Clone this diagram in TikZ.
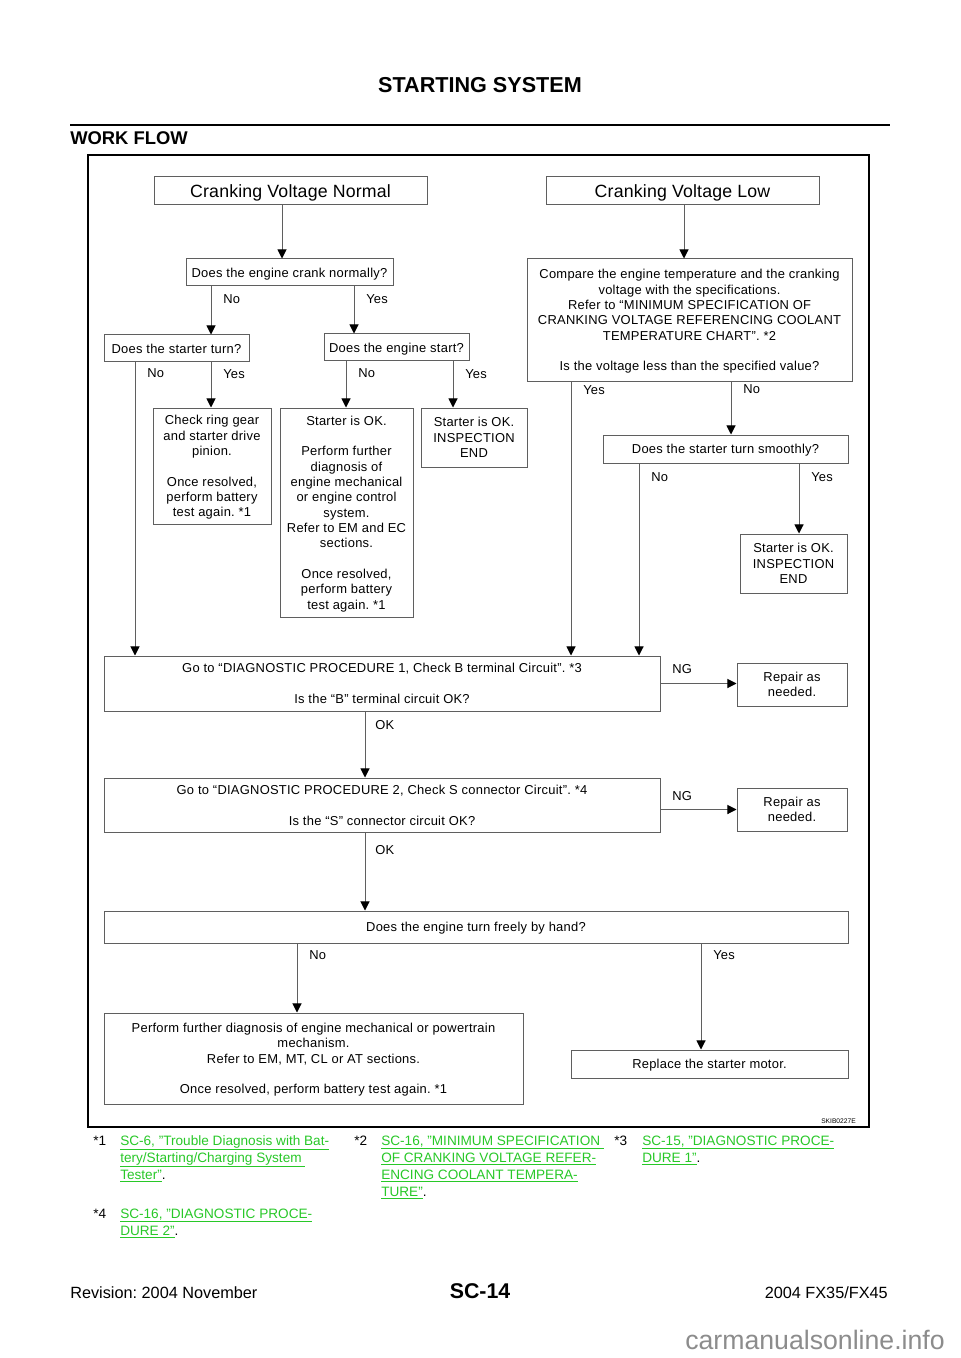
\documentclass[tikz,border=0pt]{standalone}
\usepackage{fontspec}
\setmainfont{Liberation Sans}
\newfontfamily\diagfont[LetterSpace=2]{Liberation Sans}
\newfontfamily\bigfont[LetterSpace=1]{Liberation Sans}
\usetikzlibrary{arrows.meta}
\definecolor{lnk}{RGB}{40,200,40}
\definecolor{ln}{RGB}{95,95,95}
\frenchspacing
\newcommand\vconn[3]{\draw[arr] (#1,0 |- #2.south) -- (#1,0 |- #3.north);}
\newcommand\fnl[4]{\node[fn] (#1) at (#2,#3) {#4};}
% \boxn{style}{x1}{y1}{x2}{y2}{name}{text}
\newcommand\boxn[7]{\node[#1, minimum width={(#4-#2)*0.75pt}, minimum height={(#5-#3)*0.75pt}] (#6) at ({(#2+#4)/2},{(#3+#5)/2}) {#7};}
\begin{document}
\begin{tikzpicture}[x=0.75pt,y=-0.75pt,
  dfont/.style={font=\diagfont\fontsize{9.7}{11.5}\selectfont},
  box/.style={draw=ln, line width=0.75pt, inner sep=0pt, align=center, text depth=0pt, dfont},
  bigbox/.style={box, font=\bigfont\fontsize{13.3}{16}\selectfont},
  arr/.style={draw=ln, line width=0.75pt, -{Triangle[width=6.8pt,length=6.8pt,color=black]}},
  lbl/.style={anchor=west, inner sep=0pt, dfont},
  fn/.style={anchor=base west, inner sep=0pt, font=\fontsize{10.2}{12}\selectfont}]
\useasboundingbox (0,0) rectangle (960,1358);
\fill[white] (0,0) rectangle (960,1358);

% header
\node[font=\bfseries\fontsize{16.2}{18}\selectfont] (title) at (480,85) {STARTING SYSTEM};
\draw[line width=2.2pt] (70,125) -- (890,125);
\node[anchor=west, inner sep=0pt, font=\bfseries\fontsize{13.8}{16}\selectfont] (wf) at (70,138) {WORK FLOW};

% frame
\draw[line width=1.4pt] (88,155) rectangle (869,1127);
\node[anchor=east, inner sep=0pt, font=\fontsize{5}{6}\selectfont] (skib) at (856,1121) {SKIB0227E};

% boxes
\boxn{bigbox}{154}{177}{427}{205}{cvn}{Cranking Voltage Normal}
\boxn{bigbox}{546}{177}{819}{205}{cvl}{Cranking Voltage Low}
\boxn{box}{186}{259}{393}{286}{crank}{Does the engine crank normally?}
\boxn{box}{104}{335}{249}{362}{sturn}{Does the starter turn?}
\boxn{box}{324}{334}{469}{361}{estart}{Does the engine start?}
\boxn{box}{153}{408}{271}{524}{ring}{Check ring gear\\and starter drive\\pinion.\\[11.5pt]Once resolved,\\perform battery\\test again. *1}
\boxn{box}{280}{408}{413}{617}{okbig}{Starter is OK.\\[11.5pt]Perform further\\diagnosis of\\engine mechanical\\or engine control\\system.\\Refer to EM and EC\\sections.\\[11.5pt]Once resolved,\\perform battery\\test again. *1}
\boxn{box}{421}{408}{527}{467}{okend1}{Starter is OK.\\INSPECTION\\END}
\boxn{box}{527}{259}{852}{381}{cmp}{Compare the engine temperature and the cranking\\voltage with the specifications.\\Refer to “MINIMUM SPECIFICATION OF\\CRANKING VOLTAGE REFERENCING COOLANT\\TEMPERATURE CHART”. *2\\[11.5pt]Is the voltage less than the specified value?}
\boxn{box}{603}{435}{848}{463}{smooth}{Does the starter turn smoothly?}
\boxn{box}{740}{534}{847}{593}{okend2}{Starter is OK.\\INSPECTION\\END}
\boxn{box}{104}{656}{660}{711}{diag1}{Go to “DIAGNOSTIC PROCEDURE 1, Check B terminal Circuit”. *3\\[11.5pt]Is the “B” terminal circuit OK?}
\boxn{box}{737}{663}{847}{706}{rep1}{Repair as\\needed.}
\boxn{box}{104}{778}{660}{832}{diag2}{Go to “DIAGNOSTIC PROCEDURE 2, Check S connector Circuit”. *4\\[11.5pt]Is the “S” connector circuit OK?}
\boxn{box}{737}{788}{847}{831}{rep2}{Repair as\\needed.}
\boxn{box}{104}{911}{848}{943}{free}{Does the engine turn freely by hand?}
\boxn{box}{104}{1013}{523}{1104}{perf}{Perform further diagnosis of engine mechanical or powertrain\\mechanism.\\Refer to EM, MT, CL or AT sections.\\[11.5pt]Once resolved, perform battery test again. *1}
\boxn{box}{571}{1050}{848}{1078}{repl}{Replace the starter motor.}

% connectors
\vconn{282}{cvn}{crank}
\vconn{684}{cvl}{cmp}
\vconn{211}{crank}{sturn}
\vconn{354}{crank}{estart}
\vconn{135}{sturn}{diag1}
\vconn{211}{sturn}{ring}
\vconn{346}{estart}{okbig}
\vconn{453}{estart}{okend1}
\vconn{571}{cmp}{diag1}
\vconn{731}{cmp}{smooth}
\vconn{639}{smooth}{diag1}
\vconn{799}{smooth}{okend2}
\vconn{365}{diag1}{diag2}
\vconn{365}{diag2}{free}
\vconn{297}{free}{perf}
\vconn{701}{free}{repl}
\draw[arr] (diag1.east) -- (diag1.east -| rep1.west);
\draw[arr] (rep2.west -| diag2.east) -- (rep2.west);

% labels
\node[lbl] (l1) at (223,299) {No};
\node[lbl] (l2) at (366,299) {Yes};
\node[lbl] (l3) at (147,373) {No};
\node[lbl] (l4) at (223,374) {Yes};
\node[lbl] (l5) at (358,373) {No};
\node[lbl] (l6) at (465,374) {Yes};
\node[lbl] (l7) at (583,390) {Yes};
\node[lbl] (l8) at (743,389) {No};
\node[lbl] (l9) at (651,477) {No};
\node[lbl] (l10) at (811,477) {Yes};
\node[lbl] (l11) at (672,669) {NG};
\node[lbl] (l12) at (375,725) {OK};
\node[lbl] (l13) at (672,796) {NG};
\node[lbl] (l14) at (375,850) {OK};
\node[lbl] (l15) at (309,955) {No};
\node[lbl] (l16) at (713,955) {Yes};

% footnotes
\fnl{s1}{93}{1145}{*1}
\fnl{f1a}{120}{1145}{\color{lnk}\underline{SC-6, "Trouble Diagnosis with Bat-}}
\fnl{f1b}{120}{1162}{\color{lnk}\underline{tery/Starting/Charging System }}
\fnl{f1c}{120}{1179}{\color{lnk}\underline{Tester"}\color{black}.}
\fnl{s2}{354}{1145}{*2}
\fnl{f2a}{381}{1145}{\color{lnk}\underline{SC-16, "MINIMUM SPECIFICATION }}
\fnl{f2b}{381}{1162}{\color{lnk}\underline{OF CRANKING VOLTAGE REFER-}}
\fnl{f2c}{381}{1179}{\color{lnk}\underline{ENCING COOLANT TEMPERA-}}
\fnl{f2d}{381}{1196}{\color{lnk}\underline{TURE"}\color{black}.}
\fnl{s3}{614}{1145}{*3}
\fnl{f3a}{642}{1145}{\color{lnk}\underline{SC-15, "DIAGNOSTIC PROCE-}}
\fnl{f3b}{642}{1162}{\color{lnk}\underline{DURE 1"}\color{black}.}
\fnl{s4}{93}{1218}{*4}
\fnl{f4a}{120}{1218}{\color{lnk}\underline{SC-16, "DIAGNOSTIC PROCE-}}
\fnl{f4b}{120}{1235}{\color{lnk}\underline{DURE 2"}\color{black}.}

% footer
\node[anchor=west, inner sep=0pt, font=\fontsize{12.2}{14}\selectfont] (rev) at (70,1293) {Revision: 2004 November};
\node[inner sep=0pt, font=\bfseries\fontsize{16}{18}\selectfont] (pg) at (480,1291) {SC-14};
\node[anchor=east, inner sep=0pt, font=\fontsize{12.2}{14}\selectfont] (mdl) at (888,1293) {2004 FX35/FX45};
\node[anchor=east, inner sep=0pt, text=black!45, font=\fontsize{20}{22}\selectfont] (wm) at (945,1340) {carmanualsonline.info};
\end{tikzpicture}
\end{document}
